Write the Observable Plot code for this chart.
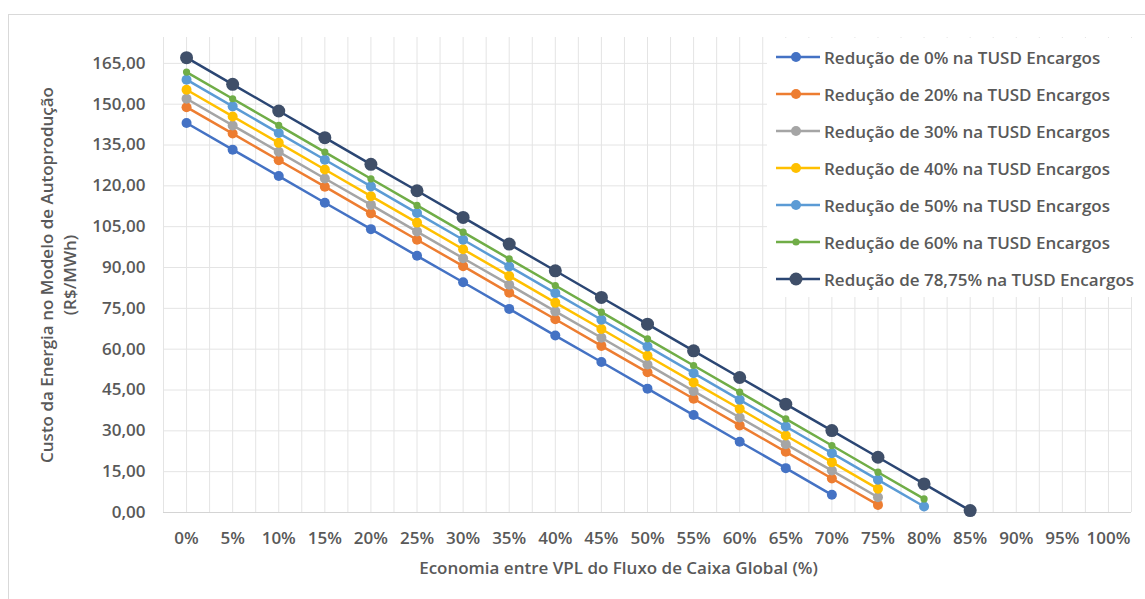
<!DOCTYPE html>
<html>
<head>
<meta charset="utf-8">
<script src="https://cdn.jsdelivr.net/npm/d3@7"></script>
<script src="https://cdn.jsdelivr.net/npm/@observablehq/plot@0.6"></script>
<style>
  html, body { margin: 0; padding: 0; background: #fff; overflow: hidden; }
  #wrap { position: relative; width: 1145px; height: 599px; }
  #frame { position: absolute; left: 8px; top: 14px; width: 2000px; height: 2000px;
           border-left: 1px solid #d9d9d9; border-top: 1px solid #d9d9d9; pointer-events: none; }
  #legend { position: absolute; left: 767px; top: 38px; width: 378px; height: 259px; background: #fff;
            font-family: "Open Sans", sans-serif; font-weight: 600; font-size: 17px; color: #595959; }
  .row { position: absolute; left: 9px; height: 24px; display: flex; align-items: center; white-space: nowrap; }
  .row svg { display: block; margin-right: 4px; }
</style>
</head>
<body>
<div id="wrap">
  <div id="chart"></div>
  <div id="legend"></div>
  <div id="frame"></div>
</div>
<script>
// Categories (x, %) and tick labels
const xPct = [0, 5, 10, 15, 20, 25, 30, 35, 40, 45, 50, 55, 60, 65, 70, 75, 80, 85, 90, 95, 100];
const yTicks = [0, 15, 30, 45, 60, 75, 90, 105, 120, 135, 150, 165];

const seriesNames = [
  "Redução de 0% na TUSD Encargos",
  "Redução de 20% na TUSD Encargos",
  "Redução de 30% na TUSD Encargos",
  "Redução de 40% na TUSD Encargos",
  "Redução de 50% na TUSD Encargos",
  "Redução de 60% na TUSD Encargos",
  "Redução de 78,75% na TUSD Encargos"
];
const lineColors   = ["#4472C4", "#ED7D31", "#A5A5A5", "#FFC000", "#5B9BD5", "#70AD47", "#2B4673"];
const markerColors = ["#4472C4", "#ED7D31", "#A5A5A5", "#FFC000", "#5B9BD5", "#70AD47", "#3F4F69"];
const markerR      = [5, 5, 5, 5, 5, 3.6, 6.5];

// Series values (R$/MWh), one per x category starting at 0%
const red0  = [143.1, 133.3, 123.6, 113.8, 104.1, 94.3, 84.6, 74.8, 65.0, 55.3, 45.5, 35.8, 26.0, 16.3, 6.5];
const red20 = [148.9, 139.2, 129.4, 119.7, 109.9, 100.2, 90.5, 80.7, 71.0, 61.2, 51.5, 41.8, 32.0, 22.3, 12.5, 2.8];
const red30 = [152.0, 142.2, 132.5, 122.7, 113.0, 103.2, 93.4, 83.7, 73.9, 64.2, 54.4, 44.6, 34.9, 25.1, 15.4, 5.6];
const red40 = [155.3, 145.5, 135.8, 126.0, 116.2, 106.5, 96.7, 86.9, 77.1, 67.4, 57.6, 47.8, 38.1, 28.3, 18.5, 8.7];
const red50 = [159.0, 149.2, 139.4, 129.6, 119.8, 110.0, 100.2, 90.4, 80.6, 70.8, 61.0, 51.2, 41.4, 31.6, 21.8, 12.0, 2.2];
const red60 = [161.8, 152.0, 142.2, 132.4, 122.6, 112.8, 103.0, 93.2, 83.4, 73.6, 63.8, 54.0, 44.2, 34.4, 24.6, 14.8, 5.0];
const red7875 = [167.1, 157.3, 147.5, 137.7, 127.9, 118.2, 108.4, 98.6, 88.8, 79.0, 69.2, 59.4, 49.6, 39.8, 30.1, 20.3, 10.5, 0.7];

const allSeries = [red0, red20, red30, red40, red50, red60, red7875];

const tables = allSeries.map((vals, k) =>
  vals.map((v, i) => ({series: seriesNames[k], x: xPct[i], y: v}))
);

const step = xPct[1] - xPct[0];
const gridX = d3.range(xPct[0] - step / 2, xPct[xPct.length - 1] + step / 2 + 0.001, step / 2);

const fmt = d => d.toFixed(2).replace(".", ",");

const marks = [
  Plot.ruleX(gridX, {stroke: "#e4e4e4", strokeWidth: 1}),
  Plot.ruleY(yTicks.filter(d => d > 0), {stroke: "#e4e4e4", strokeWidth: 1}),
  Plot.ruleY([0], {stroke: "#d4d4d4", strokeWidth: 1.2}),
  Plot.axisX({ticks: xPct, tickFormat: d => d + "%", tickSize: 0, tickPadding: 19, label: null}),
  Plot.axisY({ticks: yTicks, tickFormat: fmt, tickSize: 0, tickPadding: 18, label: null}),
  Plot.text(["Custo da Energia no Modelo de Autoprodução\n(R$/MWh)"], {
    frameAnchor: "left", textAnchor: "middle", lineAnchor: "middle", rotate: -90, dx: -106.5,
    lineHeight: 1.33, fill: "#595959", fontSize: 17, fontWeight: 600
  }),
  Plot.text(["Economia entre VPL do Fluxo de Caixa Global (%)"], {
    frameAnchor: "bottom", textAnchor: "middle", dy: 61, dx: -29, fill: "#595959", fontSize: 17, fontWeight: 600
  })
];
tables.forEach((t, k) => {
  marks.push(Plot.line(t, {x: "x", y: "y", stroke: lineColors[k], strokeWidth: 2.5}));
  marks.push(Plot.dot(t, {x: "x", y: "y", r: markerR[k], fill: markerColors[k], stroke: "none"}));
});

const chart = Plot.plot({
  width: 1145,
  height: 599,
  marginLeft: 163,
  marginRight: 14,
  marginTop: 37,
  marginBottom: 87,
  style: {fontFamily: "Open Sans, sans-serif", fontSize: "17px", fontWeight: 600, color: "#595959", background: "transparent"},
  x: {domain: [xPct[0] - step / 2, xPct[xPct.length - 1] + step / 2]},
  y: {domain: [0, 174.5]},
  marks
});
document.getElementById("chart").appendChild(chart);

// Legend
const legend = document.getElementById("legend");
seriesNames.forEach((name, k) => {
  const row = document.createElement("div");
  row.className = "row";
  row.style.top = (7 + k * 37) + "px";
  row.innerHTML =
    `<svg width="44" height="24"><line x1="0" y1="12" x2="44" y2="12" stroke="${lineColors[k]}" stroke-width="2.5"/>` +
    `<circle cx="20" cy="12" r="${markerR[k]}" fill="${markerColors[k]}"/></svg><span>${name}</span>`;
  legend.appendChild(row);
});
</script>
</body>
</html>
